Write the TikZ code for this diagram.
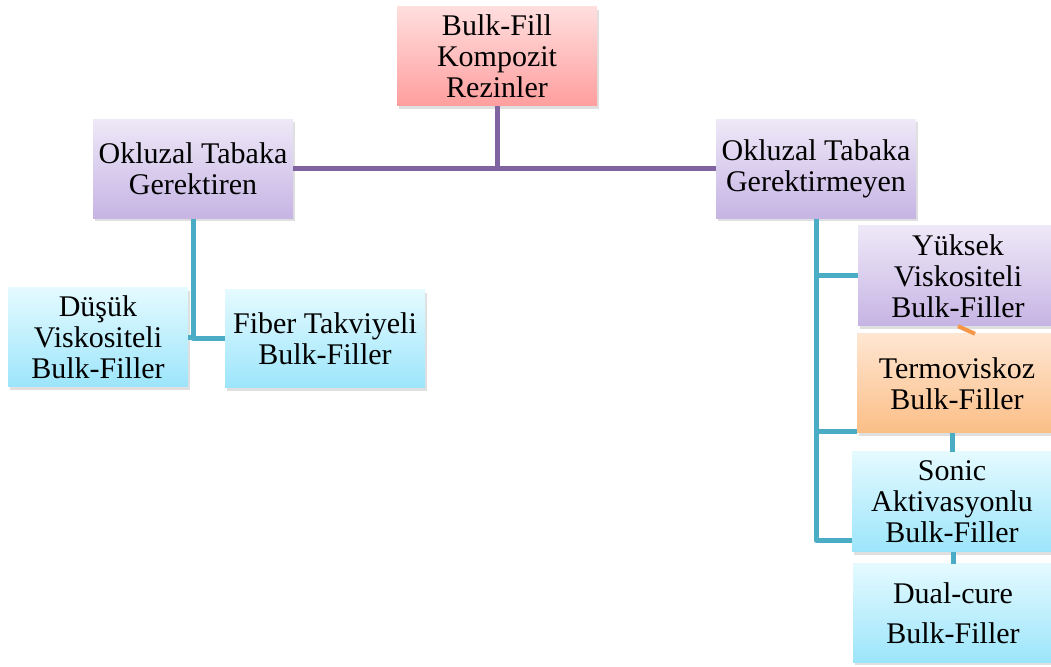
\documentclass[tikz,border=0pt]{standalone}
\usepackage{fontspec}
\setmainfont{Liberation Serif}
\usetikzlibrary{shadows}

\definecolor{pinktop}{HTML}{FFDEDE}
\definecolor{pinkbot}{HTML}{FF9E9E}
\definecolor{lilatop}{HTML}{EEE8F7}
\definecolor{lilabot}{HTML}{C6B4E4}
\definecolor{cyantop}{HTML}{E4FAFF}
\definecolor{cyanbot}{HTML}{9CE5FB}
\definecolor{orangetop}{HTML}{FFE6D2}
\definecolor{orangebot}{HTML}{FBBE86}
\definecolor{lilaline}{HTML}{8064A2}
\definecolor{tealline}{HTML}{4BACC6}
\definecolor{orangeline}{HTML}{F79646}

\tikzset{
  kutu/.style={minimum width=200pt, minimum height=99pt, inner sep=2pt, align=center,
    font=\fontsize{30}{31}\selectfont,
    drop shadow={shadow xshift=2pt, shadow yshift=-3pt, opacity=0.25}},
  pembe/.style={kutu, top color=pinktop, bottom color=pinkbot},
  lila/.style={kutu, top color=lilatop, bottom color=lilabot},
  mavi/.style={kutu, top color=cyantop, bottom color=cyanbot},
  turuncu/.style={kutu, top color=orangetop, bottom color=orangebot},
  morcizgi/.style={draw=lilaline, line width=5pt},
  maviizgi/.style={draw=tealline, line width=5pt, line join=round}
}

\begin{document}
\begin{tikzpicture}[x=1pt,y=1pt]
\useasboundingbox (0,0) rectangle (1051,666);
\fill[white] (0,0) rectangle (1051,666);

% connectors first
\coordinate (ust) at (497,609.5);
\coordinate (sol) at (193,497);
\coordinate (sag) at (816,497);

\node[pembe] (kok) at (ust) {Bulk-Fill\\Kompozit\\Rezinler};
\node[lila] (gerektiren) at (sol) {Okluzal Tabaka\\Gerektiren};
\node[lila] (gerektirmeyen) at (sag) {Okluzal Tabaka\\Gerektirmeyen};

\node[mavi, minimum width=180pt] (dusuk) at (98,328.5) {Düşük\\Viskositeli\\Bulk-Filler};
\node[mavi, minimum height=98pt] (fiber) at (325,327) {Fiber Takviyeli\\Bulk-Filler};

\node[lila, minimum height=100pt] (yuksek) at (958,390) {Yüksek\\Viskositeli\\Bulk-Filler};
\node[turuncu] (termo) at (957,282.5) {Termoviskoz\\Bulk-Filler};
\node[mavi, minimum height=100pt] (sonic) at (952,164) {Sonic\\Aktivasyonlu\\Bulk-Filler};
\node[mavi, minimum height=98pt] (dual) at (953,53) {Dual-cure\\[9pt]Bulk-Filler};

% purple tree
\draw[morcizgi] (gerektiren.east) -- (gerektirmeyen.west);
\draw[morcizgi] (kok.south) -- (kok.south |- gerektiren.east);

% left branch
\draw[maviizgi] (gerektiren.south) |- (fiber.west);
\draw[maviizgi] (dusuk.east) -- (dusuk.east -| gerektiren.south);

% right branch
\draw[maviizgi] (gerektirmeyen.south) |- (yuksek.west);
\draw[maviizgi] (gerektirmeyen.south) |- ([yshift=2pt]termo.south west);
\draw[maviizgi] (gerektirmeyen.south) |- ([yshift=12pt]sonic.south west);
\draw[maviizgi] (sonic.north) -- (sonic.north |- termo.south);
\draw[maviizgi] (dual.north) -- (dual.north |- sonic.south);
\draw[draw=orangeline, line width=4pt] (yuksek.south) -- ([xshift=18pt]termo.north);
\end{tikzpicture}
\end{document}
